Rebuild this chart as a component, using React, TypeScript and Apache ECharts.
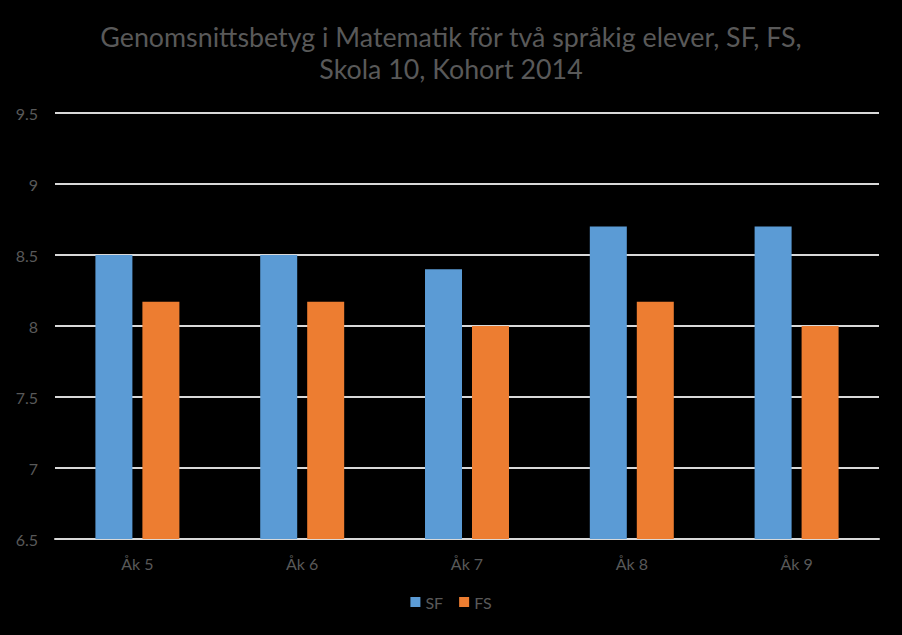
import React, { useEffect, useRef } from "react";
import * as echarts from "echarts";

const categories = ["Åk 5", "Åk 6", "Åk 7", "Åk 8", "Åk 9"];
const sfValues = [8.5, 8.5, 8.4, 8.7, 8.7];
const fsValues = [8.17, 8.17, 8.0, 8.17, 8.0];
const titleText = "Genomsnittsbetyg i Matematik för två språkig elever, SF, FS,\nSkola 10, Kohort 2014";

export default function App() {
  const ref = useRef<HTMLDivElement>(null);
  useEffect(() => {
    if (!ref.current) return;
    const chart = echarts.init(ref.current, null, { renderer: "svg" });
    const font = "Lato, 'Open Sans', sans-serif";
    chart.setOption({
      animation: false,
      backgroundColor: "#000000",
      title: {
        text: titleText,
        left: "center",
        top: 16,
        textStyle: {
          color: "#595959",
          fontSize: 26.8,
          fontWeight: "normal",
          fontFamily: font,
          lineHeight: 32,
        },
      },
      legend: {
        bottom: 20,
        left: "center",
        itemWidth: 10,
        itemHeight: 10,
        itemGap: 16,
        icon: "rect",
        textStyle: { color: "#595959", fontSize: 16, fontFamily: font },
        data: ["SF", "FS"],
      },
      grid: { left: 55, right: 23, top: 113, bottom: 96, containLabel: false },
      xAxis: {
        type: "category",
        data: categories,
        axisLine: { show: true, lineStyle: { color: "#d9d9d9", width: 2 } },
        axisTick: { show: false },
        axisLabel: { color: "#595959", fontSize: 16, fontFamily: font, margin: 16 },
      },
      yAxis: {
        type: "value",
        min: 6.5,
        max: 9.5,
        interval: 0.5,
        axisLine: { show: false },
        axisTick: { show: false },
        axisLabel: { color: "#595959", fontSize: 16, fontFamily: font, margin: 17 },
        splitLine: { lineStyle: { color: "#d9d9d9", width: 2 } },
      },
      series: [
        {
          name: "SF",
          type: "bar",
          data: sfValues,
          barWidth: 37,
          barGap: "27%",
          itemStyle: { color: "#5B9BD5" },
          z: 3,
        },
        {
          name: "FS",
          type: "bar",
          data: fsValues,
          barWidth: 37,
          barGap: "27%",
          itemStyle: { color: "#ED7D31" },
          z: 3,
        },
      ],
    });
    return () => chart.dispose();
  }, []);
  return (
    <div
      ref={ref}
      style={{ position: "fixed", left: 0, top: 0, width: 902, height: 635 }}
    />
  );
}
